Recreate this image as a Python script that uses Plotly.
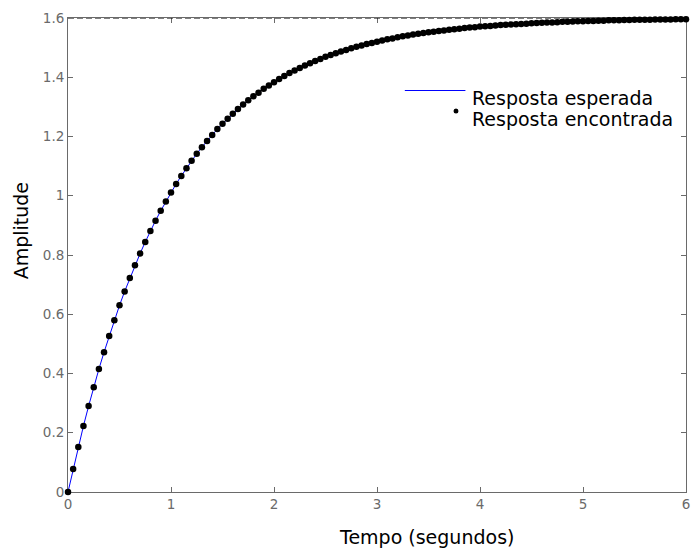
import plotly.graph_objects as go

tempo = [0.00, 0.05, 0.10, 0.15, 0.20, 0.25, 0.30, 0.35, 0.40, 0.45,
         0.50, 0.55, 0.60, 0.65, 0.70, 0.75, 0.80, 0.85, 0.90, 0.95,
         1.00, 1.05, 1.10, 1.15, 1.20, 1.25, 1.30, 1.35, 1.40, 1.45,
         1.50, 1.55, 1.60, 1.65, 1.70, 1.75, 1.80, 1.85, 1.90, 1.95,
         2.00, 2.05, 2.10, 2.15, 2.20, 2.25, 2.30, 2.35, 2.40, 2.45,
         2.50, 2.55, 2.60, 2.65, 2.70, 2.75, 2.80, 2.85, 2.90, 2.95,
         3.00, 3.05, 3.10, 3.15, 3.20, 3.25, 3.30, 3.35, 3.40, 3.45,
         3.50, 3.55, 3.60, 3.65, 3.70, 3.75, 3.80, 3.85, 3.90, 3.95,
         4.00, 4.05, 4.10, 4.15, 4.20, 4.25, 4.30, 4.35, 4.40, 4.45,
         4.50, 4.55, 4.60, 4.65, 4.70, 4.75, 4.80, 4.85, 4.90, 4.95,
         5.00, 5.05, 5.10, 5.15, 5.20, 5.25, 5.30, 5.35, 5.40, 5.45,
         5.50, 5.55, 5.60, 5.65, 5.70, 5.75, 5.80, 5.85, 5.90, 5.95,
         6.00]

resposta_esperada = [0.000, 0.078, 0.152, 0.223, 0.290, 0.354, 0.415, 0.472, 0.527, 0.580,
                     0.630, 0.677, 0.722, 0.765, 0.805, 0.844, 0.881, 0.916, 0.949, 0.981,
                     1.011, 1.040, 1.067, 1.093, 1.118, 1.142, 1.164, 1.185, 1.205, 1.225,
                     1.243, 1.260, 1.277, 1.293, 1.308, 1.322, 1.336, 1.348, 1.361, 1.372,
                     1.383, 1.394, 1.404, 1.414, 1.423, 1.431, 1.440, 1.447, 1.455, 1.462,
                     1.469, 1.475, 1.481, 1.487, 1.492, 1.498, 1.503, 1.507, 1.512, 1.516,
                     1.520, 1.524, 1.528, 1.531, 1.535, 1.538, 1.541, 1.544, 1.547, 1.549,
                     1.552, 1.554, 1.556, 1.558, 1.560, 1.562, 1.564, 1.566, 1.568, 1.569,
                     1.571, 1.572, 1.573, 1.575, 1.576, 1.577, 1.578, 1.579, 1.580, 1.581,
                     1.582, 1.583, 1.584, 1.585, 1.585, 1.586, 1.587, 1.587, 1.588, 1.589,
                     1.589, 1.590, 1.590, 1.591, 1.591, 1.592, 1.592, 1.592, 1.593, 1.593,
                     1.594, 1.594, 1.594, 1.594, 1.595, 1.595, 1.595, 1.595, 1.596, 1.596,
                     1.596]

resposta_encontrada = [0.000, 0.078, 0.152, 0.223, 0.290, 0.354, 0.415, 0.472, 0.527, 0.580,
                       0.630, 0.677, 0.722, 0.765, 0.805, 0.844, 0.881, 0.916, 0.949, 0.981,
                       1.011, 1.040, 1.067, 1.093, 1.118, 1.142, 1.164, 1.185, 1.205, 1.225,
                       1.243, 1.260, 1.277, 1.293, 1.308, 1.322, 1.336, 1.348, 1.361, 1.372,
                       1.383, 1.394, 1.404, 1.414, 1.423, 1.431, 1.440, 1.447, 1.455, 1.462,
                       1.469, 1.475, 1.481, 1.487, 1.492, 1.498, 1.503, 1.507, 1.512, 1.516,
                       1.520, 1.524, 1.528, 1.531, 1.535, 1.538, 1.541, 1.544, 1.547, 1.549,
                       1.552, 1.554, 1.556, 1.558, 1.560, 1.562, 1.564, 1.566, 1.568, 1.569,
                       1.571, 1.572, 1.573, 1.575, 1.576, 1.577, 1.578, 1.579, 1.580, 1.581,
                       1.582, 1.583, 1.584, 1.585, 1.585, 1.586, 1.587, 1.587, 1.588, 1.589,
                       1.589, 1.590, 1.590, 1.591, 1.591, 1.592, 1.592, 1.592, 1.593, 1.593,
                       1.594, 1.594, 1.594, 1.594, 1.595, 1.595, 1.595, 1.595, 1.596, 1.596,
                       1.596]

valor_final = 1.6
x_range = [0, 6]
y_range = [0, 1.6]
x_ticks = [0, 1, 2, 3, 4, 5, 6]
y_ticks = [0, 0.2, 0.4, 0.6, 0.8, 1.0, 1.2, 1.4, 1.6]
y_tick_labels = ["0", "0.2", "0.4", "0.6", "0.8", "1", "1.2", "1.4", "1.6"]

FONT = "DejaVu Sans, Verdana, sans-serif"
AXIS_GRAY = "#6a6a6a"
TXT = 19

fig = go.Figure()

# final value (dashed) line
fig.add_trace(go.Scatter(
    x=x_range, y=[valor_final, valor_final], mode="lines",
    line=dict(color="black", width=1, dash="6px,3px"),
    showlegend=False, hoverinfo="skip", cliponaxis=False,
))

fig.add_trace(go.Scatter(
    x=tempo, y=resposta_esperada, mode="lines",
    line=dict(color="#0000ff", width=1),
    name="Resposta esperada", showlegend=False, cliponaxis=False,
))

fig.add_trace(go.Scatter(
    x=tempo, y=resposta_encontrada, mode="markers",
    marker=dict(color="black", size=6.5, symbol="circle"),
    name="Resposta encontrada", showlegend=False, cliponaxis=False,
))

L, R, T, B = 68, 1, 18, 58
W, H = 691, 550
pw = W - L - R
ph = H - T - B


def px_x(p):
    return (p - L) / pw


def px_y(p):
    return (H - B - p) / ph


axis_common = dict(
    showgrid=False, zeroline=False, showline=True, linecolor=AXIS_GRAY,
    linewidth=1, mirror="ticks", ticks="inside", ticklen=5, tickwidth=1,
    tickcolor=AXIS_GRAY, tickfont=dict(family=FONT, size=13.5, color=AXIS_GRAY),
    layer="below traces", ticklabeloverflow="allow",
)

fig.update_xaxes(range=x_range, tickvals=x_ticks, ticktext=[str(v) for v in x_ticks],
                 **axis_common)
fig.update_yaxes(range=y_range, tickvals=y_ticks, ticktext=y_tick_labels,
                 **axis_common)

# legend drawn manually (MATLAB style, no box)
shapes = [
    dict(type="line", xref="paper", yref="paper",
         x0=px_x(407), x1=px_x(468), y0=px_y(90.5), y1=px_y(90.5),
         line=dict(color="#0000ff", width=1)),
    dict(type="circle", xref="paper", yref="paper",
         x0=px_x(456), x1=px_x(461), y0=px_y(108.5), y1=px_y(113.5),
         fillcolor="black", line=dict(color="black", width=0)),
]

annotations = [
    dict(text="Resposta esperada", xref="paper", yref="paper",
         x=px_x(473), y=px_y(98), xanchor="left", yanchor="middle",
         showarrow=False, font=dict(family=FONT, size=TXT, color="black")),
    dict(text="Resposta encontrada", xref="paper", yref="paper",
         x=px_x(473), y=px_y(119), xanchor="left", yanchor="middle",
         showarrow=False, font=dict(family=FONT, size=TXT, color="black")),
    dict(text="Tempo (segundos)", xref="paper", yref="paper",
         x=px_x(429), y=px_y(537), xanchor="center", yanchor="middle",
         showarrow=False, font=dict(family=FONT, size=TXT, color="black")),
    dict(text="Amplitude", xref="paper", yref="paper", textangle=-90,
         x=px_x(21), y=px_y(231), xanchor="center", yanchor="middle",
         showarrow=False, font=dict(family=FONT, size=TXT, color="black")),
]

fig.update_layout(
    width=W, height=H,
    margin=dict(l=L, r=R, t=T, b=B),
    paper_bgcolor="white", plot_bgcolor="white",
    shapes=shapes, annotations=annotations,
    showlegend=False,
    font=dict(family=FONT),
)

fig.write_html("out.html")
